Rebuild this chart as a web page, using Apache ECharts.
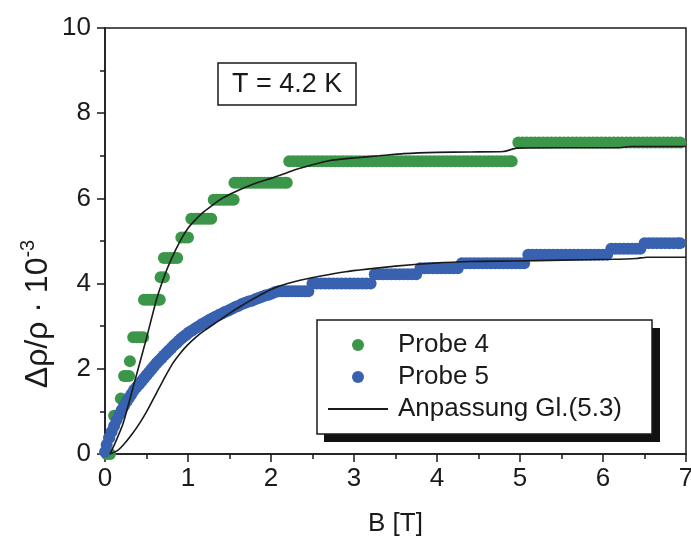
<!DOCTYPE html>
<html>
<head>
<meta charset="utf-8">
<script src="https://cdn.jsdelivr.net/npm/echarts@6/dist/echarts.min.js"></script>
<style>html,body{margin:0;padding:0;background:#fff;}#c{width:691px;height:538px;}</style>
</head>
<body>
<div id="c"></div>
<script>
// Probe 4 (green) measured points [B (T), Δρ/ρ·10^-3]
const probe4 = [
 [0.02,0],[0.06,0],[0.05,0.38],[0.11,0.9],[0.14,0.9],[0.19,1.3],
 [0.23,1.83],[0.26,1.83],[0.29,1.83],[0.30,2.18],
 [0.34,2.74],[0.38,2.74],[0.42,2.74],[0.46,2.74],
 [0.47,3.62],[0.51,3.62],[0.55,3.62],[0.59,3.62],[0.63,3.62],[0.66,3.62],
 [0.67,4.15],[0.71,4.15],
 [0.71,4.6],[0.75,4.6],[0.79,4.6],[0.83,4.6],[0.87,4.6],
 [0.92,5.08],[0.96,5.08],[1.0,5.08],
 [1.04,5.52],[1.08,5.52],[1.12,5.52],[1.16,5.52],[1.2,5.52],[1.24,5.52],[1.28,5.52],
 [1.31,5.97],[1.35,5.97],[1.39,5.97],[1.43,5.97],[1.47,5.97],[1.51,5.97],[1.55,5.97],
 [1.56,6.37],[1.6,6.37],[1.64,6.37],[1.68,6.37],[1.72,6.37],[1.76,6.37],[1.8,6.37],[1.84,6.37],
 [1.88,6.37],[1.92,6.37],[1.96,6.37],[2.0,6.37],[2.04,6.37],[2.08,6.37],[2.12,6.37],[2.16,6.37],[2.19,6.37],
 [2.22,6.87],[2.27,6.87],[2.32,6.87],[2.37,6.87],[2.42,6.87],[2.47,6.87],[2.52,6.87],[2.57,6.87],
 [2.62,6.87],[2.67,6.87],[2.72,6.87],[2.77,6.87],[2.82,6.87],[2.87,6.87],[2.92,6.87],[2.97,6.87],
 [3.02,6.87],[3.07,6.87],[3.12,6.87],[3.17,6.87],[3.22,6.87],[3.27,6.87],[3.32,6.87],[3.37,6.87],
 [3.42,6.87],[3.47,6.87],[3.52,6.87],[3.57,6.87],[3.62,6.87],[3.67,6.87],[3.72,6.87],[3.77,6.87],
 [3.82,6.87],[3.87,6.87],[3.92,6.87],[3.97,6.87],[4.02,6.87],[4.07,6.87],[4.12,6.87],[4.17,6.87],
 [4.22,6.87],[4.27,6.87],[4.32,6.87],[4.37,6.87],[4.42,6.87],[4.47,6.87],[4.52,6.87],[4.57,6.87],
 [4.62,6.87],[4.67,6.87],[4.72,6.87],[4.77,6.87],[4.82,6.87],[4.87,6.87],[4.9,6.87],
 [4.98,7.31],[5.03,7.31],[5.08,7.31],[5.13,7.31],[5.18,7.31],[5.23,7.31],[5.28,7.31],[5.33,7.31],
 [5.38,7.31],[5.43,7.31],[5.48,7.31],[5.53,7.31],[5.58,7.31],[5.63,7.31],[5.68,7.31],[5.73,7.31],
 [5.78,7.31],[5.83,7.31],[5.88,7.31],[5.93,7.31],[5.98,7.31],[6.03,7.31],[6.08,7.31],[6.13,7.31],
 [6.18,7.31],[6.23,7.31],[6.28,7.31],[6.33,7.31],[6.38,7.31],[6.43,7.31],[6.48,7.31],[6.53,7.31],
 [6.58,7.31],[6.63,7.31],[6.68,7.31],[6.73,7.31],[6.78,7.31],[6.83,7.31],[6.88,7.31],[6.93,7.31]
];
// Probe 5 (blue) measured points
const probe5 = [
 [0.0,0.05],[0.02,0.22],[0.05,0.38],[0.08,0.52],[0.11,0.66],[0.14,0.8],[0.17,0.92],[0.2,1.03],
 [0.23,1.13],[0.26,1.23],[0.29,1.32],[0.32,1.41],[0.35,1.5],[0.38,1.57],[0.41,1.64],[0.44,1.71],
 [0.47,1.78],[0.5,1.85],[0.53,1.92],[0.56,1.99],[0.59,2.06],[0.62,2.13],[0.65,2.19],[0.68,2.25],
 [0.71,2.31],[0.74,2.37],[0.77,2.43],[0.8,2.49],[0.83,2.55],[0.86,2.6],[0.89,2.66],[0.92,2.71],
 [0.95,2.76],[0.98,2.8],[1.01,2.85],[1.05,2.9],[1.09,2.95],[1.13,3.0],[1.17,3.05],[1.21,3.09],
 [1.25,3.14],[1.29,3.18],[1.33,3.22],[1.37,3.26],[1.41,3.3],[1.45,3.34],[1.49,3.37],[1.53,3.41],
 [1.57,3.45],[1.61,3.48],[1.65,3.52],[1.69,3.55],[1.73,3.58],[1.77,3.6],[1.81,3.63],[1.85,3.66],
 [1.89,3.69],[1.93,3.72],[1.97,3.74],[2.01,3.77],[2.05,3.8],
 [2.09,3.82],[2.13,3.82],[2.17,3.82],[2.21,3.82],[2.25,3.82],[2.29,3.82],[2.33,3.82],[2.37,3.82],[2.41,3.82],[2.45,3.82],
 [2.5,4.0],[2.55,4.0],[2.6,4.0],[2.65,4.0],[2.7,4.0],[2.75,4.0],[2.8,4.0],[2.85,4.0],
 [2.9,4.0],[2.95,4.0],[3.0,4.0],[3.05,4.0],[3.1,4.0],[3.15,4.0],[3.2,4.0],
 [3.25,4.22],[3.3,4.22],[3.35,4.22],[3.4,4.22],[3.45,4.22],[3.5,4.22],[3.55,4.22],[3.6,4.22],[3.65,4.22],[3.7,4.22],[3.75,4.22],
 [3.8,4.36],[3.85,4.36],[3.9,4.36],[3.95,4.36],[4.0,4.36],[4.05,4.36],[4.1,4.36],[4.15,4.36],[4.2,4.36],[4.25,4.36],
 [4.3,4.48],[4.35,4.48],[4.4,4.48],[4.45,4.48],[4.5,4.48],[4.55,4.48],[4.6,4.48],[4.65,4.48],
 [4.7,4.48],[4.75,4.48],[4.8,4.48],[4.85,4.48],[4.9,4.48],[4.95,4.48],[5.0,4.48],[5.05,4.48],
 [5.1,4.68],[5.15,4.68],[5.2,4.68],[5.25,4.68],[5.3,4.68],[5.35,4.68],[5.4,4.68],[5.45,4.68],[5.5,4.68],[5.55,4.68],
 [5.6,4.68],[5.65,4.68],[5.7,4.68],[5.75,4.68],[5.8,4.68],[5.85,4.68],[5.9,4.68],[5.95,4.68],[6.0,4.68],[6.05,4.68],
 [6.1,4.82],[6.15,4.82],[6.2,4.82],[6.25,4.82],[6.3,4.82],[6.35,4.82],[6.4,4.82],[6.45,4.82],
 [6.5,4.95],[6.55,4.95],[6.6,4.95],[6.65,4.95],[6.7,4.95],[6.75,4.95],[6.8,4.95],[6.85,4.95],[6.9,4.95],[6.93,4.95]
];
// Fit curves (Anpassung Gl.(5.3))
const fit4 = [
 [0.06,0],[0.12,0.25],[0.22,0.73],[0.35,1.65],[0.5,2.72],[0.62,3.62],[0.72,4.2],[0.8,4.58],
 [0.9,4.98],[1.0,5.3],[1.1,5.52],[1.2,5.7],[1.3,5.85],[1.41,6.0],[1.55,6.14],[1.7,6.27],
 [1.85,6.38],[2.0,6.47],[2.15,6.57],[2.3,6.68],[2.5,6.79],[2.71,6.89],[3.0,6.95],[3.3,7.0],
 [3.6,7.05],[4.0,7.08],[4.4,7.09],[4.8,7.1],[4.96,7.18],[5.5,7.19],[6.2,7.19],[6.33,7.22],[7.0,7.22]
];
const fit5 = [
 [0.06,0],[0.15,0.08],[0.22,0.21],[0.32,0.45],[0.42,0.73],[0.52,1.06],[0.62,1.43],[0.72,1.8],
 [0.82,2.14],[0.9,2.35],[0.99,2.55],[1.1,2.75],[1.2,2.9],[1.35,3.1],[1.5,3.3],[1.62,3.45],
 [1.75,3.6],[1.9,3.76],[2.05,3.9],[2.2,4.0],[2.35,4.08],[2.6,4.18],[2.9,4.28],[3.16,4.34],
 [3.5,4.41],[3.96,4.48],[4.4,4.52],[4.92,4.53],[5.5,4.55],[6.12,4.57],[6.4,4.59],[6.53,4.62],[7.0,4.62]
];
const seriesNames = ['Probe 4', 'Probe 5', 'Anpassung Gl.(5.3)'];
const tempLabel = 'T = 4.2 K';
const xName = 'B [T]';

const FONT = 'Liberation Sans, Arial, sans-serif';
const INK = '#1a1a1a';
const GREEN = '#3b9649';
const BLUE = '#3862b0';

const chart = echarts.init(document.getElementById('c'), null, {renderer: 'canvas'});
const axisCommon = {
  axisLine: {show: true, lineStyle: {color: INK, width: 1.5}},
  axisTick: {show: true, inside: false, length: 8, lineStyle: {color: INK, width: 1.5}},
  minorTick: {show: true, splitNumber: 2, length: 5, lineStyle: {color: INK, width: 1.5}},
  splitLine: {show: false},
  axisLabel: {fontSize: 26, color: INK, fontFamily: FONT}
};
chart.setOption({
  animation: false,
  backgroundColor: '#fff',
  grid: {left: 105, right: 5, top: 28, bottom: 84, show: true, borderColor: INK, borderWidth: 1.5,
         containLabel: false, outerBoundsMode: 'none'},
  title: {
    text: tempLabel, left: 218, top: 63,
    borderColor: INK, borderWidth: 1.5, padding: [8, 14, 7, 14],
    textStyle: {fontSize: 27, fontWeight: 'normal', color: INK, fontFamily: FONT}
  },
  legend: {
    orient: 'vertical', left: 317, top: 320, align: 'left', z: 6,
    data: [
      {name: seriesNames[0], icon: 'circle'},
      {name: seriesNames[1], icon: 'circle'},
      {name: seriesNames[2], itemStyle: {opacity: 0}}
    ],
    itemWidth: 60, itemHeight: 12, itemGap: 6,
    padding: [12, 30, 12, 10],
    backgroundColor: '#fff', borderColor: INK, borderWidth: 1.5,
    textStyle: {fontSize: 26, color: INK, fontFamily: FONT, padding: [0, 0, 0, 5]}
  },
  xAxis: Object.assign({}, axisCommon, {
    type: 'value', min: 0, max: 7, interval: 1,
    axisLabel: Object.assign({}, axisCommon.axisLabel, {margin: 12}),
    name: xName, nameLocation: 'middle', nameGap: 57,
    nameTextStyle: {fontSize: 26, color: INK, fontFamily: FONT}
  }),
  yAxis: Object.assign({}, axisCommon, {
    type: 'value', min: 0, max: 10, interval: 2,
    axisLabel: Object.assign({}, axisCommon.axisLabel, {margin: 14})
  }),
  graphic: [
    // hard drop shadow of the legend box
    {type: 'rect', z: 5, shape: {x: 324, y: 328, width: 336, height: 114}, style: {fill: '#111'}},
    {
      type: 'text', x: 36, y: 314, rotation: Math.PI / 2,
      style: {
        text: '{m|Δρ/ρ · 10}{s|-3}',
        align: 'center', verticalAlign: 'middle',
        rich: {
          m: {fontSize: 32, fontFamily: FONT, fill: INK, color: INK, lineHeight: 36, verticalAlign: 'bottom'},
          s: {fontSize: 20, fontFamily: FONT, fill: INK, color: INK, lineHeight: 20, verticalAlign: 'top'}
        }
      }
    }
  ],
  series: [
    {name: seriesNames[0], type: 'scatter', data: probe4, symbol: 'circle', symbolSize: 12,
     itemStyle: {color: GREEN, opacity: 1}, z: 2, clip: false},
    {name: seriesNames[1], type: 'scatter', data: probe5, symbol: 'circle', symbolSize: 12,
     itemStyle: {color: BLUE, opacity: 1}, z: 2, clip: false},
    {name: seriesNames[2], type: 'line', data: fit4, showSymbol: false, symbol: 'none',
     lineStyle: {color: INK, width: 1.6}, itemStyle: {color: INK}, z: 3, smooth: 0.2},
    {name: seriesNames[2], type: 'line', data: fit5, showSymbol: false, symbol: 'none',
     lineStyle: {color: INK, width: 1.6}, itemStyle: {color: INK}, z: 3, smooth: 0.2}
  ]
});
</script>
</body>
</html>
